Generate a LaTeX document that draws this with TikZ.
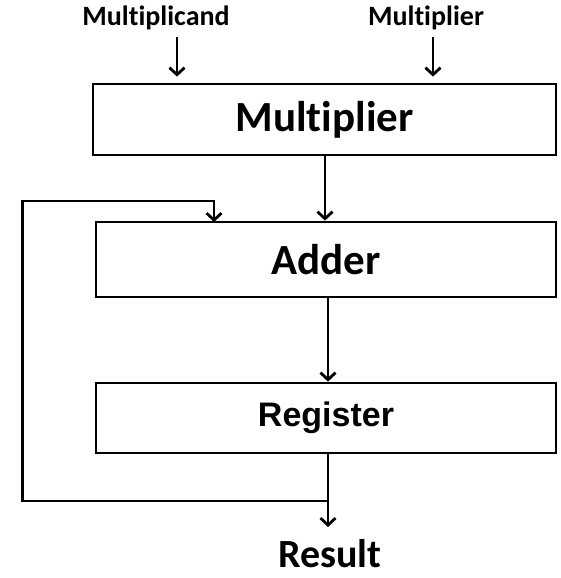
\documentclass[tikz,border=0pt]{standalone}
\usepackage{fontspec}
\newfontfamily\calfont[Ligatures=NoCommon]{Carlito}
\newfontfamily\arialfont{Liberation Sans}
\usetikzlibrary{arrows.meta}

\tikzset{
  unitbox/.style={draw,line width=2.8pt,inner sep=0pt},
  flow/.style={line width=2.8pt},
  inlabel/.style={font=\calfont\bfseries\fontsize{28}{30}\selectfont,inner sep=0pt}
}

\begin{document}
\begin{tikzpicture}[x=1pt,y=-1pt,>={Straight Barb[length=7pt,width=15pt]}]
  \useasboundingbox (0,0) rectangle (561,578);

  \node[inlabel] (cand) at (156,18) {Multiplicand};
  \node[inlabel] (plier) at (426,18) {Multiplier};

  \node[unitbox,minimum width=463pt,minimum height=71pt,font=\calfont\bfseries\fontsize{43}{46}\selectfont] (mult) at (324.5,119.5) {Multiplier};
  \node[unitbox,minimum width=460pt,minimum height=75pt,font=\calfont\bfseries\fontsize{43}{46}\selectfont] (adder) at (326,259.5) {Adder};
  \node[unitbox,minimum width=460pt,minimum height=70pt,font=\arialfont\bfseries\fontsize{34}{38}\selectfont] (reg) at (326,418) {Register};

  \node[inner sep=0pt,anchor=base,font=\calfont\bfseries\fontsize{40}{44}\selectfont] (res) at (330,567) {Result};

  \coordinate (in1) at (177,37);
  \coordinate (in2) at (433,37);
  \coordinate (midA) at (325,0);
  \coordinate (midB) at (328,0);
  \coordinate (tap) at (328,501);
  \coordinate (loopT) at (22.5,201);
  \coordinate (fb) at (214,222);
  \coordinate (out) at (328,527);

  \draw[->,flow,shorten >=6pt] (in1) -- (in1 |- mult.north);
  \draw[->,flow,shorten >=6pt] (in2) -- (in2 |- mult.north);
  \draw[->,flow] (midA |- mult.south) -- (midA |- adder.north);
  \draw[->,flow] (midB |- adder.south) -- (midB |- reg.north);
  \draw[->,flow] (midB |- reg.south) -- (out);
  \draw[->,flow] (tap) -| (loopT) -| (fb);

\end{tikzpicture}
\end{document}
